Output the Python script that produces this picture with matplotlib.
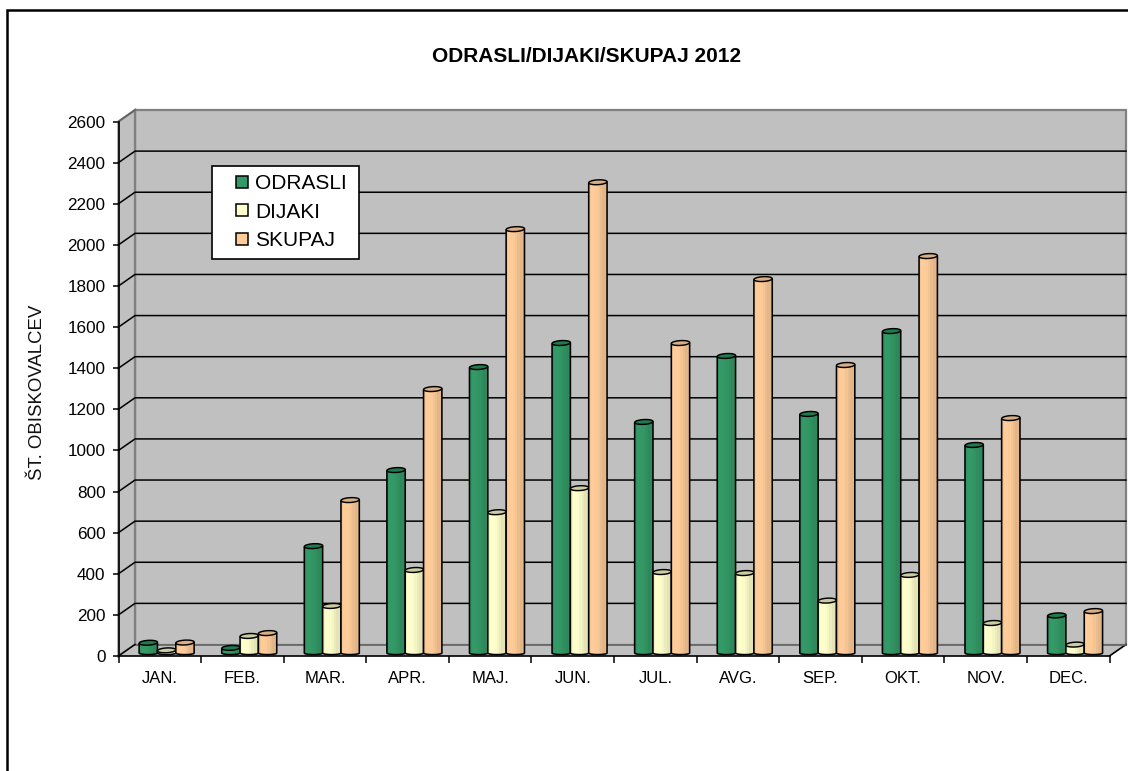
import numpy as np
import matplotlib
matplotlib.use("Agg")
import matplotlib.pyplot as plt
from matplotlib.colors import to_rgb
from matplotlib.lines import Line2D
from matplotlib.patches import Polygon, Rectangle

plt.rcParams['font.family'] = ['Liberation Sans', 'DejaVu Sans']

# ===== Data =====
months = ['JAN.', 'FEB.', 'MAR.', 'APR.', 'MAJ.', 'JUN.', 'JUL.', 'AVG.', 'SEP.', 'OKT.', 'NOV.', 'DEC.']
odrasli = [45, 20, 515, 885, 1386, 1503, 1119, 1440, 1158, 1561, 1007, 178]
dijaki = [8, 78, 224, 399, 680, 797, 389, 384, 250, 375, 141, 36]
skupaj = [46, 92, 739, 1279, 2057, 2285, 1503, 1814, 1396, 1926, 1138, 199]
series_names = ['ODRASLI', 'DIJAKI', 'SKUPAJ']
series_values = [odrasli, dijaki, skupaj]
y_ticks = list(range(0, 2601, 200))

# ===== Colours =====
face_colors = ['#339966', '#FFFFCC', '#FFCC99']
cap_colors = ['#1F7A4D', '#CCCCA3', '#D9AE82']
wall_color = '#C0C0C0'
strip_shades = [0.96, 1.0, 1.0, 0.99, 0.96, 0.92, 0.89, 0.89]

W, H = 1128, 771
fig = plt.figure(figsize=(W / 100, H / 100), dpi=100, facecolor='white')
ax = fig.add_axes([118.5 / W, (H - 656) / H, 991 / W, 534.5 / H])
ax.patch.set_visible(False)

# size of one pixel in data units
px_x = 12 / 991
px_y = 2600 / 534.5
depth_x = 16.5 * px_x
depth_y = 11.5 * px_y


def fpx(x, y):
    return x / W, 1 - y / H


# ===== Walls and floor =====
wall_kw = dict(facecolor=wall_color, edgecolor='#808080', lw=1.6, clip_on=False, zorder=1)
ax.add_patch(Polygon([(depth_x, depth_y), (12 + depth_x, depth_y),
                      (12 + depth_x, 2600 + depth_y), (depth_x, 2600 + depth_y)], **wall_kw))
ax.add_patch(Polygon([(0, 0), (depth_x, depth_y), (depth_x, 2600 + depth_y), (0, 2600)], **wall_kw))
ax.add_patch(Polygon([(0, 0), (12, 0), (12 + depth_x, depth_y), (depth_x, depth_y)],
                     facecolor=wall_color, edgecolor='none', clip_on=False, zorder=1))
ax.plot([12, 12 + depth_x], [0, depth_y], color='black', lw=1.2, clip_on=False, zorder=2)
ax.plot([depth_x, 12 + depth_x], [depth_y, depth_y], color='#606060', lw=1.2, clip_on=False, zorder=2)

for v in y_ticks[1:-1]:
    ax.plot([0, depth_x, 12 + depth_x], [v, v + depth_y, v + depth_y],
            color='black', lw=1.1, clip_on=False, zorder=2)
ax.plot([0, depth_x], [0, depth_y], color='black', lw=1.1, clip_on=False, zorder=2)
ax.plot([0, depth_x], [2600, 2600 + depth_y], color='#606060', lw=1.1, clip_on=False, zorder=2)

# ===== Cylinder bars =====
bar_w = 0.222
first_off = 0.25
base = 3 * px_y
t = np.linspace(0, np.pi, 24)

z = 3
for i in range(len(months)):
    for s in range(3):
        v = series_values[s][i] + base
        x0 = i + first_off + s * bar_w
        x1 = x0 + bar_w
        xc = (x0 + x1) / 2
        # body outline with a rounded foot
        foot_x = xc - np.cos(t) * bar_w / 2
        foot_y = base - np.sin(t) * 1.6 * px_y
        body = np.vstack([np.column_stack([foot_x, foot_y]), [x1, v + px_y], [x0, v]])
        strip_back = Polygon(body, closed=True, facecolor=face_colors[s], edgecolor='none', zorder=z)
        ax.add_patch(strip_back)
        # shading bands, clipped to the body
        n = len(strip_shades)
        edges = np.linspace(x0, x1, n + 1)
        rgb = np.array(to_rgb(face_colors[s]))
        for k in range(n):
            b = ax.bar((edges[k] + edges[k + 1]) / 2, v + 3 * px_y, width=(x1 - x0) / n + px_x * 0.3,
                       bottom=-3 * px_y, color=rgb * strip_shades[k], linewidth=0, zorder=z + 0.5)
            b[0].set_clip_path(strip_back)
        ax.add_patch(Polygon(body, closed=True, facecolor='none', edgecolor='black',
                             lw=1.15, zorder=z + 1, joinstyle='round'))
        # top cap, slightly tilted ellipse
        a = np.linspace(0, 2 * np.pi, 40)
        cap_x = xc + np.cos(a + np.pi) * bar_w / 2
        tilt = (cap_x - xc) / bar_w * 1.0 * px_y
        cap_y = v + 1.0 * px_y + tilt + np.sin(a + np.pi) * -2.4 * px_y
        ax.add_patch(Polygon(np.column_stack([cap_x, cap_y]), closed=True, facecolor=cap_colors[s],
                             edgecolor='black', lw=1.05, zorder=z + 2))
        z += 3

# ===== Axes =====
ax.set_xlim(0, 12)
ax.set_ylim(0, 2600)
for side in ['top', 'right']:
    ax.spines[side].set_visible(False)
for side in ['left', 'bottom']:
    ax.spines[side].set_linewidth(1.2)
    ax.spines[side].set_zorder(z + 5)

ax.set_yticks(y_ticks)
ax.tick_params(axis='y', which='major', length=4.3, width=1.1, pad=5, labelsize=12.3)
ax.set_xticks(np.arange(13))
ax.set_xticklabels([])
ax.set_xticks(np.arange(12) + 0.5, minor=True)
ax.set_xticklabels(months, minor=True, fontsize=12)
ax.tick_params(axis='x', which='major', length=5, width=1.1)
ax.tick_params(axis='x', which='minor', length=0, pad=10.5)

fig.text(587 / W, 1 - 56 / H, 'ODRASLI/DIJAKI/SKUPAJ 2012', ha='center', va='center',
         fontsize=15, fontweight='bold')
fig.text(38 / W, 1 - 392 / H, 'ŠT. OBISKOVALCEV', rotation=90, ha='center', va='center',
         fontsize=13.4, color='#111111')

# ===== Legend =====
handles = [Line2D([], [], ls='', marker='s', ms=8, mfc=c, mec='black', mew=1.1) for c in face_colors]
bx0, by0 = fpx(212, 259)
bx1, by1 = fpx(359, 166)
fig.add_artist(Rectangle((bx0, by0), bx1 - bx0, by1 - by0, transform=fig.transFigure,
                         facecolor='white', edgecolor='black', lw=1.2, zorder=20))
lx, ly = fpx(212, 166)
leg = fig.legend(handles, series_names, loc='upper left', bbox_to_anchor=(lx, ly),
                 bbox_transform=fig.transFigure, fontsize=15, numpoints=1, frameon=False,
                 borderaxespad=0, borderpad=0.38, labelspacing=0.46, handlelength=2.16,
                 handletextpad=-0.48)
leg.set_zorder(21)

# ===== Chart frame, runs off the right and bottom edge =====
fig.add_artist(Line2D([7 / W, 7 / W, 1], [0, 1 - 10 / H, 1 - 10 / H], color='black', lw=1.8,
                      transform=fig.transFigure, zorder=30, solid_joinstyle='miter'))

fig.savefig('out.png', dpi=100)
